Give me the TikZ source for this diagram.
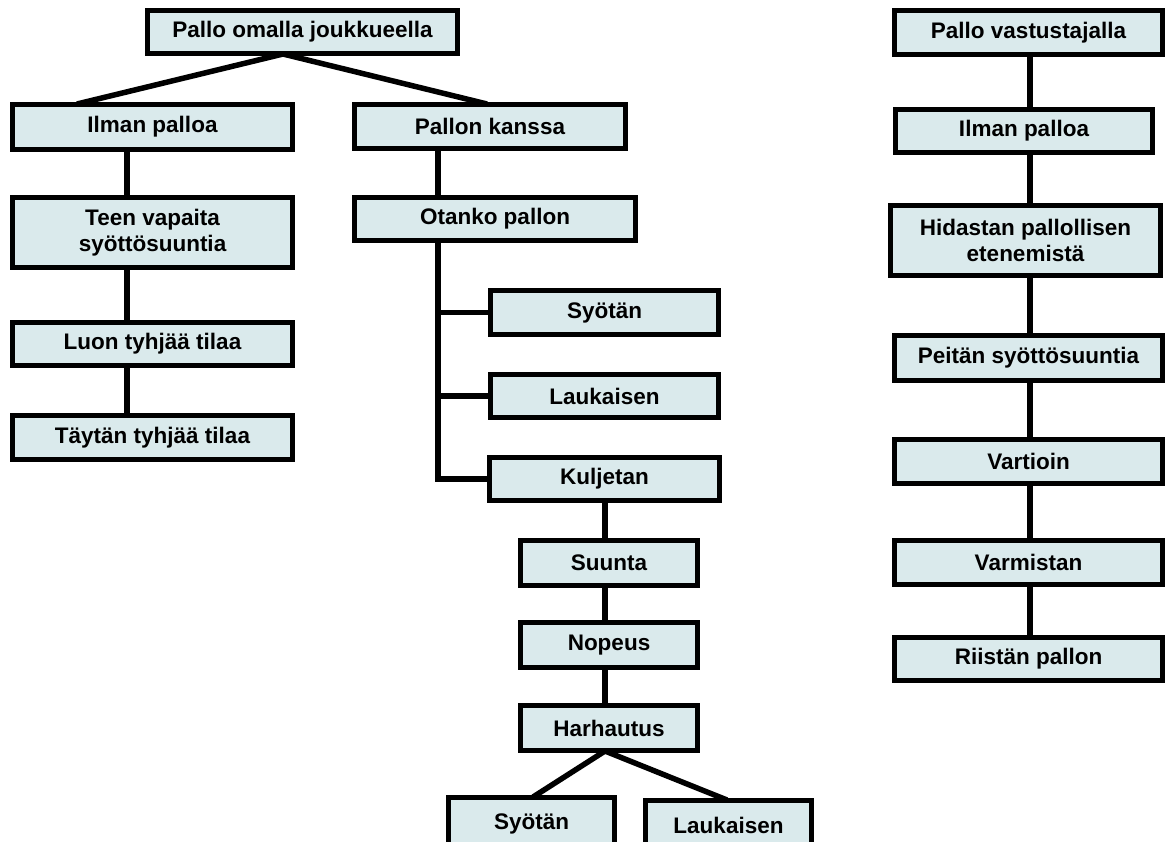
\documentclass[tikz,border=0pt]{standalone}
\usepackage{fontspec}
\setmainfont{Liberation Sans}
\definecolor{boxfill}{RGB}{218,234,236}
\tikzset{
  box/.style={draw=black, line width=5pt, fill=boxfill, rectangle,
    inner sep=0pt, align=center, font=\bfseries\fontsize{22.5}{26}\selectfont},
  link/.style={draw=black, line width=5.5pt}
}
% box from its outer corners (x1,y1)-(x2,y2)
\newcommand\bx[6]{\node[box, minimum width={#4-#2-5}, minimum height={#5-#3-5}]
  (#1) at ({(#2+#4)/2},{(#3+#5)/2}) {#6};}
\begin{document}
\begin{tikzpicture}[x=1pt,y=-1pt]
\useasboundingbox (0,0) rectangle (1166,841);
\begin{scope}
\clip (0,0) rectangle (1166,841);
% own team in possession
\bx{own}{145}{8}{460}{56}{Pallo omalla joukkueella}
\bx{noball}{10}{102}{295}{152}{Ilman palloa}
\bx{withball}{352}{102}{628}{151}{Pallon kanssa}
\bx{free}{10}{195}{295}{270}{Teen vapaita\\syöttösuuntia}
\bx{create}{10}{320}{295}{368}{Luon tyhjää tilaa}
\bx{fill}{10}{413}{295}{462}{Täytän tyhjää tilaa}
\bx{take}{352}{195}{638}{243}{Otanko pallon}
\bx{pass}{488}{288}{721}{337}{Syötän}
\bx{shoot}{488}{372}{721}{420}{Laukaisen}
\bx{carry}{487}{455}{722}{503}{Kuljetan}
\bx{dir}{518}{538}{700}{588}{Suunta}
\bx{speed}{518}{620}{700}{670}{Nopeus}
\bx{feint}{518}{703}{700}{753}{Harhautus}
\bx{passb}{446}{795}{617}{852}{Syötän}
\bx{shootb}{643}{798}{814}{852}{Laukaisen}
% opponent in possession
\bx{opp}{892}{8}{1165}{57}{Pallo vastustajalla}
\bx{noball2}{893}{107}{1155}{155}{Ilman palloa}
\bx{slow}{888}{203}{1163}{278}{Hidastan pallollisen\\etenemistä}
\bx{cover}{892}{333}{1165}{383}{Peitän syöttösuuntia}
\bx{guard}{892}{437}{1165}{486}{Vartioin}
\bx{secure}{892}{538}{1165}{587}{Varmistan}
\bx{steal}{892}{635}{1165}{683}{Riistän pallon}

% connectors of the left tree
\draw[link] ([xshift=-75.5pt,yshift=-2pt]noball.north) -- ([xshift=-19.5pt,yshift=2pt]own.south);
\draw[link] ([xshift=-19.5pt,yshift=2pt]own.south) -- ([xshift=-3pt,yshift=-2pt]withball.north);
\draw[link] ([xshift=-25.5pt]noball.south) -- ([xshift=-25.5pt]free.north);
\draw[link] ([xshift=-25.5pt]free.south) -- ([xshift=-25.5pt]create.north);
\draw[link] ([xshift=-25.5pt]create.south) -- ([xshift=-25.5pt]fill.north);
\draw[link] ([xshift=-52pt]withball.south) -- ([xshift=-57pt]take.north);
\coordinate (trunk) at ([xshift=-57pt]take.south);
\draw[link, line join=miter] (trunk) |- (carry.west);
\draw[link] (trunk |- pass.west) -- (pass.west);
\draw[link] (trunk |- shoot.west) -- (shoot.west);
\draw[link] ([xshift=0.5pt]carry.south) -- ([xshift=-4pt]dir.north);
\draw[link] ([xshift=-4pt]dir.south) -- ([xshift=-4pt]speed.north);
\draw[link] ([xshift=-4pt]speed.south) -- ([xshift=-4pt]feint.north);
\coordinate (fork) at ([xshift=-4pt,yshift=2pt]feint.south);
\draw[link] (fork) -- ([xshift=1.5pt,yshift=-2pt]passb.north);
\draw[link] (fork) -- ([xshift=-1.5pt,yshift=-2pt]shootb.north);
% connectors of the right column
\draw[link] ([xshift=1.5pt]opp.south) -- ([xshift=6pt]noball2.north);
\draw[link] ([xshift=6pt]noball2.south) -- ([xshift=4.5pt]slow.north);
\draw[link] ([xshift=4.5pt,yshift=4pt]slow.south) -- ([xshift=1.5pt]cover.north);
\draw[link] ([xshift=1.5pt]cover.south) -- ([xshift=1.5pt]guard.north);
\draw[link] ([xshift=1.5pt]guard.south) -- ([xshift=1.5pt]secure.north);
\draw[link] ([xshift=1.5pt]secure.south) -- ([xshift=1.5pt]steal.north);
\end{scope}
\end{tikzpicture}
\end{document}
